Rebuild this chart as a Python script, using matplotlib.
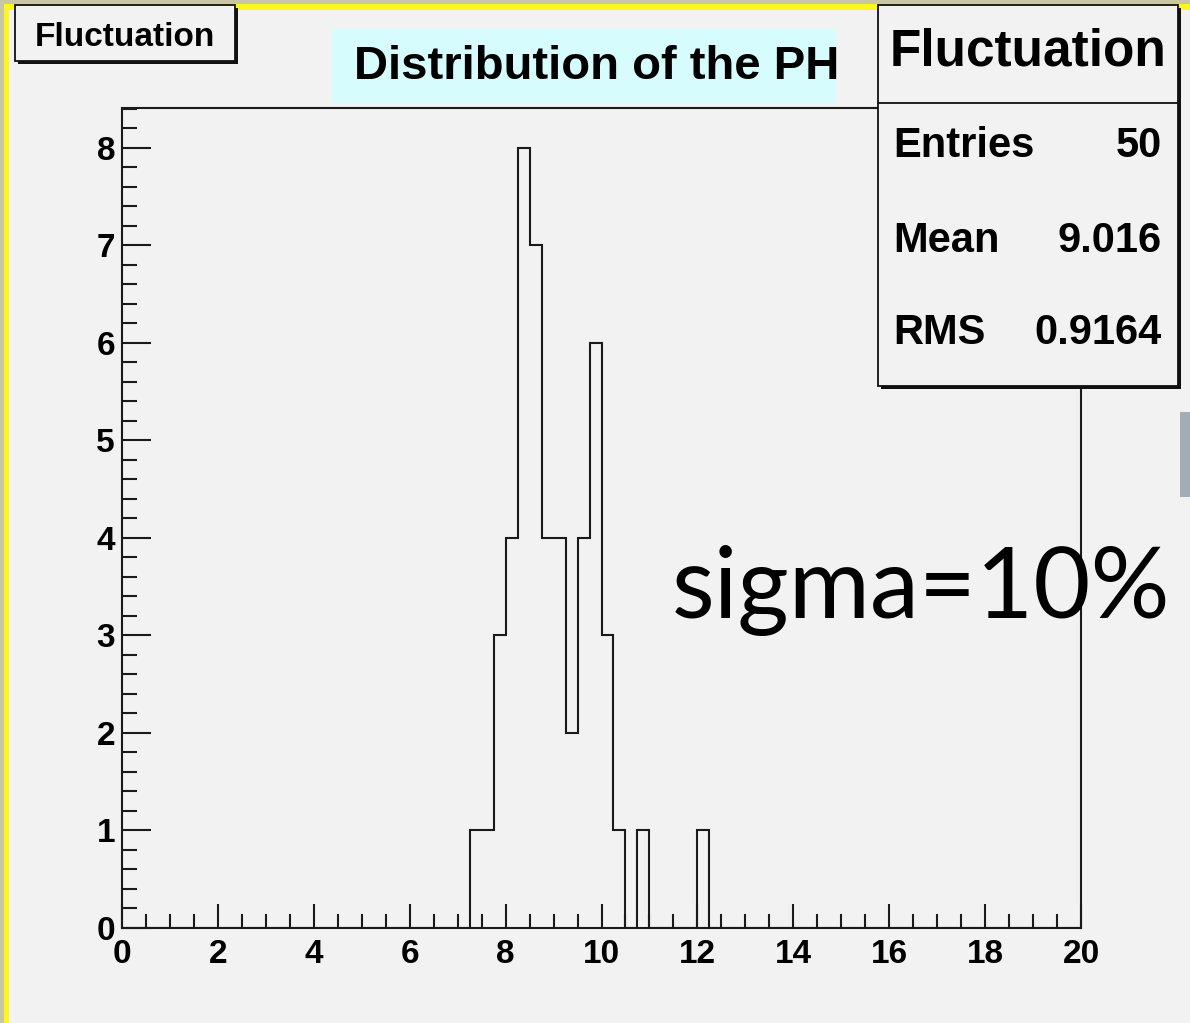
import numpy as np
import matplotlib.pyplot as plt
from matplotlib.patches import Rectangle
from matplotlib.ticker import MultipleLocator

# histogram contents (bin width 0.25, only filled bins listed)
bin_low = [7.25, 7.5, 7.75, 8.0, 8.25, 8.5, 8.75, 9.0, 9.25, 9.5, 9.75, 10.0, 10.25, 10.75, 12.0]
counts = [1, 1, 3, 4, 8, 7, 4, 4, 2, 4, 6, 3, 1, 1, 1]
bin_width = 0.25
x_range = (0, 20)

hist_name = "Fluctuation"
title = "Distribution of the PH"
stats_labels = ["Entries", "Mean", "RMS"]
stats_values = ["50", "9.016", "0.9164"]
note = "sigma=10%"

bg = '#f2f2f2'
narrow = ['Liberation Sans Narrow', 'Liberation Sans', 'DejaVu Sans']

fig = plt.figure(figsize=(11.9, 10.23), dpi=100, facecolor=bg)
W, H = 1190, 1023

# main histogram frame
ax = fig.add_axes([122 / W, (H - 928) / H, 959 / W, 820 / H], facecolor=bg)
edges = np.arange(x_range[0], x_range[1] + bin_width / 2, bin_width)
ax.hist(bin_low, bins=edges, weights=counts, histtype='step', color='#1a1a1a', lw=1.5)
ax.set_xlim(*x_range)
ax.set_ylim(0, 8.41)
ax.xaxis.set_major_locator(MultipleLocator(2))
ax.xaxis.set_minor_locator(MultipleLocator(0.5))
ax.yaxis.set_major_locator(MultipleLocator(1))
ax.yaxis.set_minor_locator(MultipleLocator(0.2))
ax.tick_params(axis='both', which='both', direction='in', color='#1a1a1a', width=1.5)
ax.tick_params(axis='y', which='major', length=21, pad=5)
ax.tick_params(axis='y', which='minor', length=11)
ax.tick_params(axis='x', which='major', length=17, pad=8)
ax.tick_params(axis='x', which='minor', length=10)
for lab in ax.get_xticklabels() + ax.get_yticklabels():
    lab.set_family(narrow)
    lab.set_fontweight('bold')
    lab.set_fontsize(24)
for s in ax.spines.values():
    s.set_linewidth(1.5)
    s.set_color('#1a1a1a')

# overlay in pixel coordinates for the boxes
ov = fig.add_axes([0, 0, 1, 1], zorder=5)
ov.set_xlim(0, W)
ov.set_ylim(H, 0)
ov.axis('off')
ov.patch.set_visible(False)

# frame border of the slide
ov.add_patch(Rectangle((0, 0), 4, H, color='#c9c6a2', lw=0))
ov.add_patch(Rectangle((0, 0), W, 4, color='#c9c6a2', lw=0))
ov.add_patch(Rectangle((4, 4), 5, H, color='#fbf71c', lw=0))
ov.add_patch(Rectangle((4, 4), W, 6, color='#fbf71c', lw=0))

# histogram name box
ov.add_patch(Rectangle((18, 8), 220, 56, color='#111111', lw=0))
ov.add_patch(Rectangle((15, 5), 220, 56, facecolor=bg, edgecolor='#111111', lw=1.3))
ov.text(125, 38, hist_name, family=narrow, fontweight='bold', fontsize=24,
        ha='center', va='center')

# title box
ov.add_patch(Rectangle((332, 29), 504, 74, color='#d6fcfe', lw=0))
ov.text(597, 67, title, family=['Liberation Sans', 'DejaVu Sans'], fontweight='bold',
        fontsize=34, ha='center', va='center')

# stats box
ov.add_patch(Rectangle((881, 8), 300, 381, color='#111111', lw=0))
ov.add_patch(Rectangle((878, 5), 300, 381, facecolor=bg, edgecolor='#111111', lw=1.3))
ov.plot([878, 1178], [103, 103], color='#111111', lw=1.3)
ov.text(1028, 52, hist_name, family=narrow, fontweight='bold', fontsize=37,
        ha='center', va='center')
for lab, val, yy in zip(stats_labels, stats_values, [146, 241, 333]):
    ov.text(893, yy, lab, family=narrow, fontweight='bold', fontsize=30, ha='left', va='center')
    ov.text(1162, yy, val, family=narrow, fontweight='bold', fontsize=30, ha='right', va='center')

# scrollbar sliver on the right edge
ov.add_patch(Rectangle((1180, 412), 12, 85, color='#a3adb6', lw=0))

ov.text(672, 618, note, family=['Lato', 'DejaVu Sans'], fontsize=71, ha='left', va='baseline')

fig.savefig('out.png', dpi=100, facecolor=bg)
